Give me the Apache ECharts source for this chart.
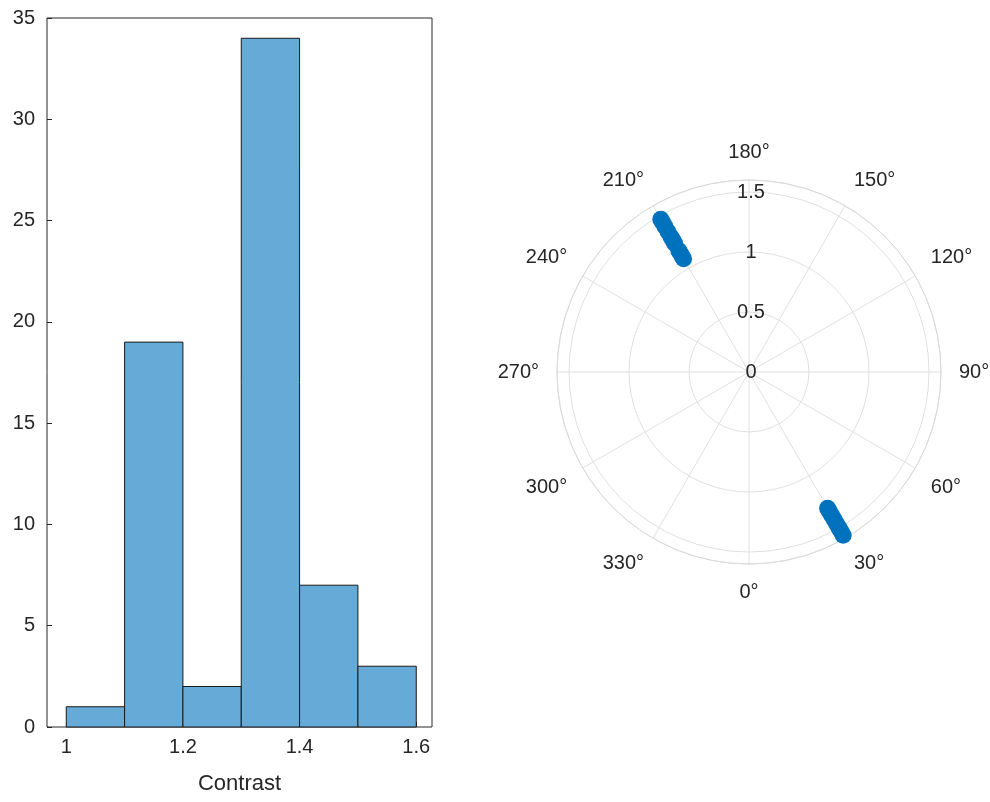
<!DOCTYPE html>
<html>
<head>
<meta charset="utf-8">
<script src="https://cdn.jsdelivr.net/npm/echarts@6/dist/echarts.min.js"></script>
</head>
<body style="margin:0;background:#fff">
<div id="main" style="width:990px;height:802px;"></div>
<script type="text/javascript">
// histogram: bin edges and counts
var binEdges = [1.0, 1.1, 1.2, 1.3, 1.4, 1.5, 1.6];
var binCounts = [1, 19, 2, 34, 7, 3];
var xTicks = [1, 1.2, 1.4, 1.6];
// polar points: angle (deg), radius
var angleA = 210;
var radiiA = [1.09, 1.11, 1.14, 1.17, 1.24, 1.27, 1.3, 1.35, 1.4, 1.44, 1.47];
var angleB = 30;
var radiiB = [1.31, 1.34, 1.38, 1.42, 1.46, 1.5, 1.53, 1.57];

var txt = '#262626';
var font = 'Arial, "Liberation Sans", sans-serif';

var bins = [];
for (var i = 0; i < binCounts.length; i++) bins.push([binEdges[i], binEdges[i + 1], binCounts[i]]);
var pts = [];
radiiA.forEach(function (r) { pts.push([r, angleA]); });
radiiB.forEach(function (r) { pts.push([r, angleB]); });

var myChart = echarts.init(document.getElementById('main'));
var option = {
  animation: false,
  textStyle: { fontFamily: font },
  grid: { left: 47, width: 385, top: 18, height: 709, show: true, borderColor: txt, borderWidth: 1 },
  xAxis: {
    type: 'value', min: 0.967, max: 1.627,
    axisLine: { show: false },
    splitLine: { show: false },
    axisTick: { inside: true, length: 5, lineStyle: { color: txt }, customValues: xTicks },
    axisLabel: { color: txt, fontSize: 20, margin: 10, customValues: xTicks, formatter: function (v) { return String(+v.toFixed(1)); } },
    name: 'Contrast', nameLocation: 'middle', nameGap: 46, nameTextStyle: { color: txt, fontSize: 22 }
  },
  yAxis: {
    type: 'value', min: 0, max: 35, interval: 5,
    axisLine: { show: false },
    splitLine: { show: false },
    axisTick: { show: true, inside: true, length: 5, lineStyle: { color: txt } },
    axisLabel: { color: txt, fontSize: 20, margin: 12 }
  },
  polar: [
    { center: [749, 372], radius: 192 },
    { center: [749, 372], radius: 192 }
  ],
  angleAxis: [
    {
      polarIndex: 0, type: 'value', min: 0, max: 360, interval: 30, startAngle: 270, clockwise: false,
      axisLine: { lineStyle: { color: '#d9d9d9' } },
      axisTick: { show: false },
      splitLine: { lineStyle: { color: '#e0e0e0' } },
      axisLabel: { color: txt, fontSize: 20, margin: 18, formatter: function (v) { return v === 360 ? '' : v + '°'; } }
    },
    {
      polarIndex: 1, type: 'value', min: 0, max: 360, startAngle: 90,
      axisLine: { show: false }, axisTick: { show: false }, splitLine: { show: false }, axisLabel: { show: false }
    }
  ],
  radiusAxis: [
    {
      polarIndex: 0, min: 0, max: 1.6, interval: 0.5,
      axisLine: { show: false }, axisTick: { show: false }, axisLabel: { show: false },
      splitLine: { show: true, lineStyle: { color: '#e0e0e0' } }
    },
    {
      polarIndex: 1, min: 0, max: 1.6, interval: 0.5,
      axisLine: { show: false }, axisTick: { show: false }, splitLine: { show: false },
      axisLabel: { color: txt, fontSize: 20, margin: -2, verticalAlign: 'middle', align: 'center',
        formatter: function (v) { return v > 1.55 ? '' : String(v); } }
    }
  ],
  series: [
    {
      type: 'custom', xAxisIndex: 0, yAxisIndex: 0, data: bins,
      renderItem: function (params, api) {
        var p0 = api.coord([api.value(0), api.value(2)]);
        var p1 = api.coord([api.value(1), 0]);
        return { type: 'rect', shape: { x: p0[0], y: p0[1], width: p1[0] - p0[0], height: p1[1] - p0[1] },
          style: { fill: '#66aad7', stroke: '#1a1a1a', lineWidth: 1 } };
      }
    },
    {
      type: 'scatter', coordinateSystem: 'polar', polarIndex: 0, data: pts,
      symbolSize: 17, itemStyle: { color: '#0072bd', opacity: 1 }
    }
  ]
};
myChart.setOption(option);
</script>
</body>
</html>
